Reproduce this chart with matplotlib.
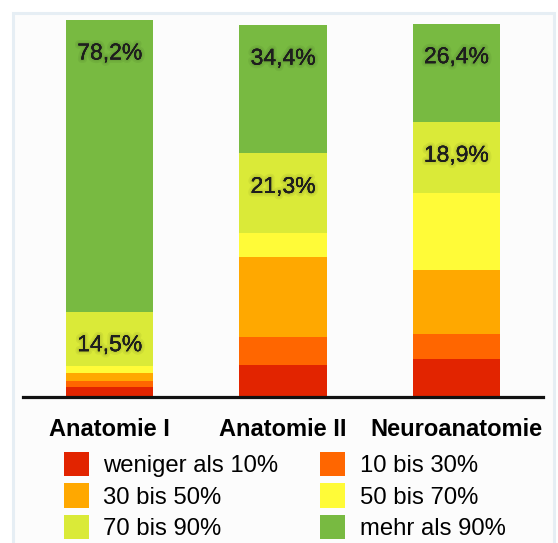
import matplotlib
matplotlib.use('Agg')
import matplotlib.pyplot as plt
import matplotlib.patheffects as pe
from matplotlib.patches import Rectangle
import numpy as np

plt.rcParams['font.family'] = ['Liberation Sans', 'DejaVu Sans']

categories = ['Anatomie I', 'Anatomie II', 'Neuroanatomie']
levels = ['weniger als 10%', '10 bis 30%', '30 bis 50%',
          '50 bis 70%', '70 bis 90%', 'mehr als 90%']

# share of students per level (%), bottom to top
weniger_10 = [2.6, 8.7, 10.2]
bis_30 = [1.6, 7.5, 6.7]
bis_50 = [2.2, 21.4, 17.2]
bis_70 = [2.0, 6.4, 20.7]
bis_90 = [14.5, 21.3, 18.9]
mehr_90 = [78.2, 34.4, 26.4]

series = [weniger_10, bis_30, bis_50, bis_70, bis_90, mehr_90]
colors = ['#E22400', '#FF6600', '#FFA800', '#FFFB38', '#DAEA38', '#78BA41']
labelled = {4, 5}

fig = plt.figure(figsize=(5.58, 5.43), dpi=100, facecolor='white')

# light panel behind the chart
fig.patches.append(Rectangle(
    (12.5 / 558, -0.05), (554 - 12.5) / 558, 1.05 - 12.5 / 543,
    transform=fig.transFigure, facecolor='#FCFCFC',
    edgecolor='#E6EEF4', linewidth=2.2, zorder=-1
))

ax = fig.add_axes([23 / 558, 146 / 543, 520 / 558, 391.7 / 543])
ax.set_facecolor('none')

x = np.arange(len(categories))
bottom = np.zeros(len(categories))
handles = []
for i, (vals, col) in enumerate(zip(series, colors)):
    vals = np.array(vals)
    bars = ax.bar(x, vals, 0.503, bottom=bottom, color=col,
                  label=levels[i], linewidth=0)
    handles.append(bars)
    if i in labelled:
        for xi, top, v in zip(x, bottom + vals, vals):
            ax.annotate(
                f'{v:.1f}%'.replace('.', ','),
                (xi, top), xytext=(0, -28.5), textcoords='offset points',
                ha='center', va='baseline', fontsize=16.5, color='#1E1E1E',
                path_effects=[
                    pe.withStroke(linewidth=5, foreground=(0, 0, 0, 0.05)),
                    pe.withStroke(linewidth=2.5, foreground=(0, 0, 0, 0.05)),
                ]
            )
    bottom = bottom + vals

for xi, name in zip(x, categories):
    ax.annotate(name, (xi, 0), xytext=(0, -28.3),
                textcoords='offset points', ha='center', va='baseline',
                fontsize=17, fontweight='bold', color='black')

ax.set_xlim(-0.5, 2.5)
ax.set_ylim(0, 105)
for side in ['top', 'right', 'left']:
    ax.spines[side].set_visible(False)
ax.spines['bottom'].set_linewidth(2.3)
ax.spines['bottom'].set_color('#111111')
ax.set_xticks([])
ax.set_yticks([])

order = [0, 2, 4, 1, 3, 5]
fig.legend(
    [handles[k] for k in order], [levels[k] for k in order],
    loc='upper left', bbox_to_anchor=(64 / 558, 1 - 452 / 543),
    ncol=2, frameon=False, fontsize=17.2, borderpad=0, borderaxespad=0,
    handlelength=1.03, handleheight=1.2, handletextpad=0.62,
    columnspacing=1.75, labelspacing=0.25
)

plt.savefig('out.png', dpi=100, facecolor='white')
